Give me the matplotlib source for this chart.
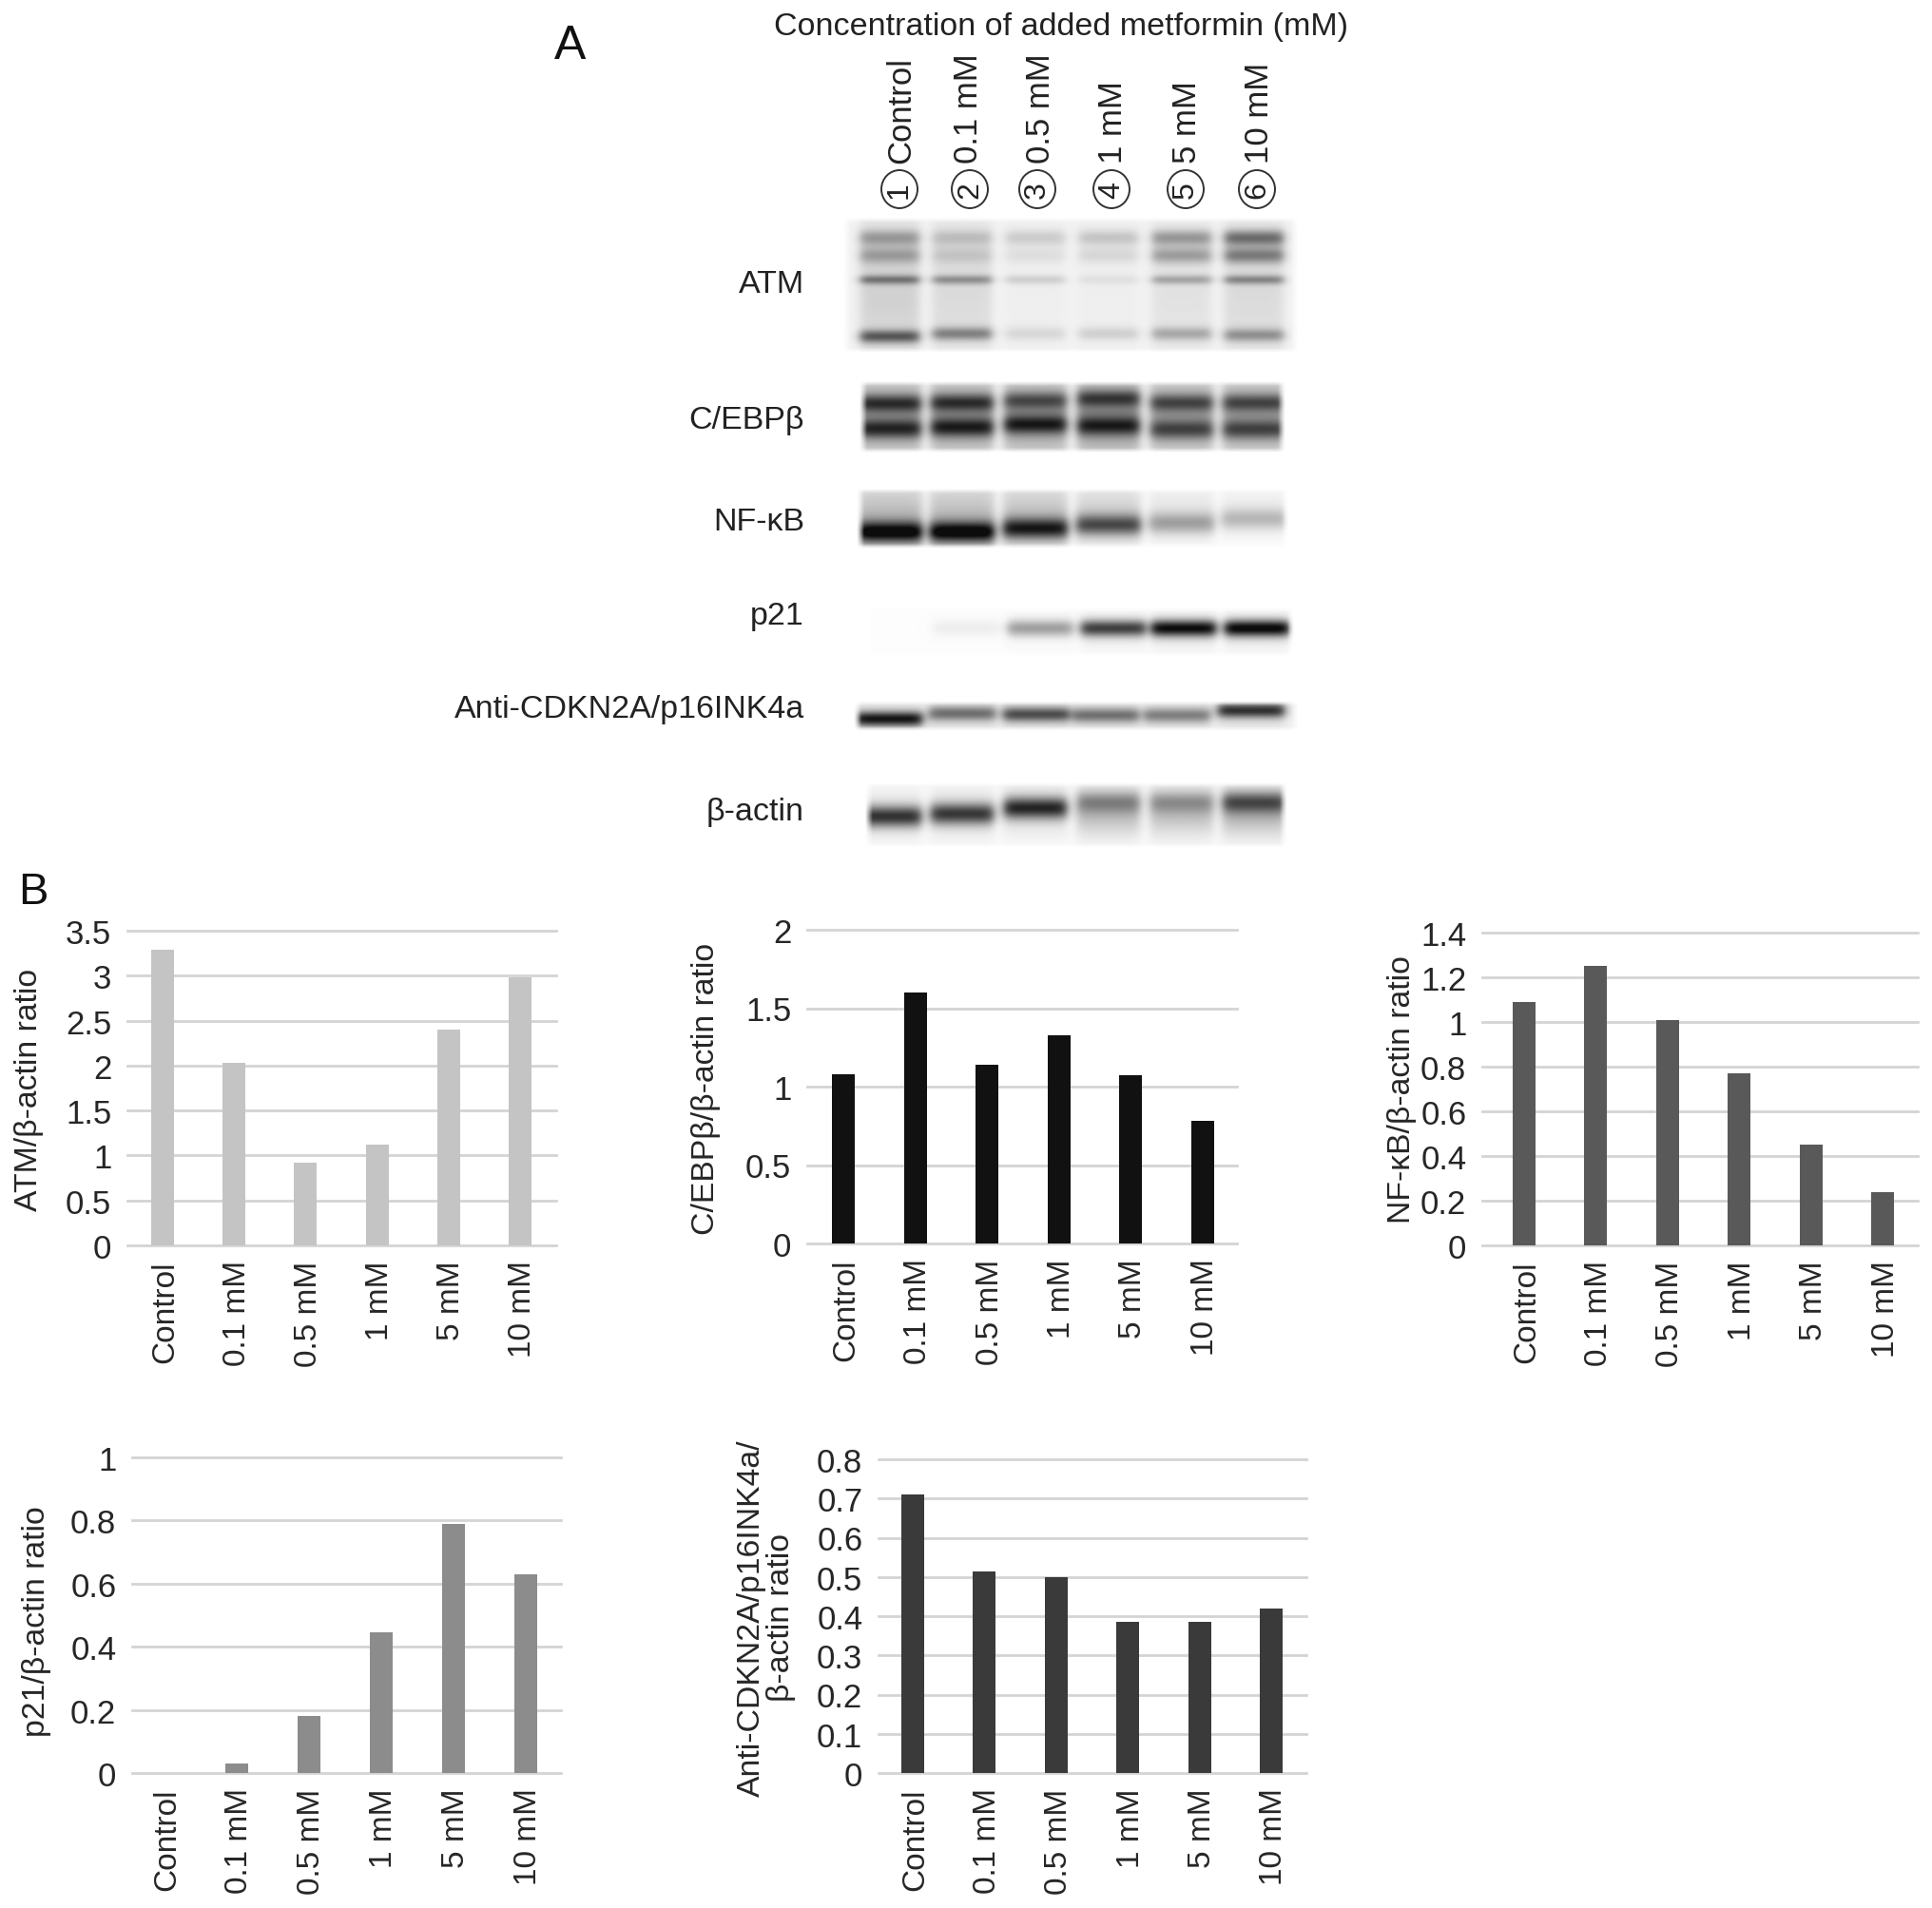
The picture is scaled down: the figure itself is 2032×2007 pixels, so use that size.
import numpy as np
import matplotlib
matplotlib.use("Agg")
import matplotlib.pyplot as plt
from matplotlib.patches import Ellipse
from matplotlib.transforms import ScaledTranslation

plt.rcParams['font.family'] = ['Liberation Sans', 'DejaVu Sans']

W, H = 2032, 2008
DOSES = ['Control', '0.1 mM', '0.5 mM', '1 mM', '5 mM', '10 mM']

# ---------- bar chart values ----------
atm_ratio = [3.29, 2.03, 0.92, 1.12, 2.40, 2.98]
cebp_ratio = [1.08, 1.60, 1.14, 1.33, 1.07, 0.78]
nfkb_ratio = [1.09, 1.25, 1.01, 0.77, 0.45, 0.24]
p21_ratio = [0.0, 0.03, 0.18, 0.445, 0.79, 0.63]
p16_ratio = [0.71, 0.515, 0.50, 0.385, 0.385, 0.42]

atm_ticks = ['0', '0.5', '1', '1.5', '2', '2.5', '3', '3.5']
cebp_ticks = ['0', '0.5', '1', '1.5', '2']
nfkb_ticks = ['0', '0.2', '0.4', '0.6', '0.8', '1', '1.2', '1.4']
p21_ticks = ['0', '0.2', '0.4', '0.6', '0.8', '1']
p16_ticks = ['0', '0.1', '0.2', '0.3', '0.4', '0.5', '0.6', '0.7', '0.8']

# ---------- band darkness per lane, read from the blots ----------
atm_top1 = [0.30, 0.17, 0.15, 0.18, 0.34, 0.50]
atm_top2 = [0.26, 0.12, 0.07, 0.10, 0.30, 0.42]
atm_mid = [0.40, 0.32, 0.13, 0.06, 0.26, 0.36]
atm_low = [0.55, 0.40, 0.10, 0.13, 0.26, 0.34]
atm_smear = [0.14, 0.10, 0.02, 0.02, 0.07, 0.10]
cebp_up = [0.50, 0.50, 0.40, 0.45, 0.42, 0.42]
cebp_dn = [0.52, 0.55, 0.55, 0.50, 0.42, 0.42]
cebp_smear = [0.40, 0.40, 0.40, 0.45, 0.38, 0.38]
nfkb_band = [0.72, 0.74, 0.62, 0.50, 0.26, 0.20]
nfkb_smear = [0.40, 0.38, 0.34, 0.25, 0.13, 0.09]
p21_band = [0.0, 0.06, 0.36, 0.72, 0.92, 0.95]
p21_smear = [0.0, 0.0, 0.02, 0.06, 0.08, 0.08]
p16_band = [0.85, 0.48, 0.62, 0.48, 0.42, 0.75]
p16_smear = [0.06, 0.06, 0.06, 0.05, 0.05, 0.05]
actin_band = [0.72, 0.68, 0.74, 0.30, 0.26, 0.50]
actin_smear = [0.10, 0.12, 0.14, 0.26, 0.24, 0.30]

fig = plt.figure(figsize=(W / 100, H / 100), dpi=100, facecolor='white')


def px_axes(l, r, t, b, **kw):
    return fig.add_axes([l / W, 1 - b / H, (r - l) / W, (b - t) / H], **kw)


def ftext(x, y, s, **kw):
    return fig.text(x / W, 1 - y / H, s, **kw)


LANES = [936, 1012, 1089, 1166, 1243, 1319]


def blot(l, r, t, b, bands, background=0.02, halfwidth=31, lanes=LANES):
    xx = np.arange(l, r) + 0.5
    yy = (np.arange(t, b) + 0.5 - t) / (b - t)
    dark = np.full((b - t, r - l), float(background))
    for band in bands:
        vals, pos, sig = band['v'], band['y'], band['s']
        up = band.get('smear_up', False)
        for i, c in enumerate(lanes):
            prof_x = 0.5 * (np.tanh((xx - c + halfwidth) / 6) - np.tanh((xx - c - halfwidth) / 6))
            p = pos[i] if np.ndim(pos) else pos
            if up == 'top':
                prof_y = np.where(yy < p, 0.35 + 0.65 * yy / max(p, .01), np.exp(-((yy - p) / sig) ** 2))
            else:
                prof_y = np.exp(-((yy - p) / sig) ** 2)
            dark += vals[i] * np.outer(prof_y, prof_x)
    edge_x = np.clip(np.minimum(xx - l, r - xx) / 8, 0, 1)
    edge_y = np.clip(np.minimum(np.arange(b - t) + .5, (b - t) - np.arange(b - t) - .5) / 5, 0, 1)
    dark = np.clip(dark, 0, 1) * np.outer(edge_y, edge_x)
    ax = px_axes(l, r, t, b)
    ax.imshow(1 - 0.95 * dark, cmap='gray', vmin=0, vmax=1, aspect='auto', interpolation='bilinear')
    ax.axis('off')


blot(887, 1366, 230, 372, [
    dict(v=atm_top1, y=0.15, s=0.06),
    dict(v=atm_top2, y=0.28, s=0.06),
    dict(v=atm_mid, y=0.46, s=0.035),
    dict(v=atm_low, y=[.88, .86, .86, .86, .86, .87], s=0.05),
    dict(v=atm_smear, y=0.55, s=0.55),
], background=0.05, halfwidth=31)

blot(904, 1352, 402, 477, [
    dict(v=cebp_up, y=[.31, .30, .27, .24, .30, .30], s=0.12),
    dict(v=cebp_dn, y=[.67, .65, .61, .63, .68, .68], s=0.13),
    dict(v=cebp_smear, y=0.5, s=0.55),
], background=0.03, halfwidth=33)

blot(901, 1356, 515, 578, [
    dict(v=nfkb_band, y=[.72, .72, .66, .60, .57, .50], s=0.17),
    dict(v=nfkb_smear, y=[.72, .72, .66, .60, .57, .50], s=0.30, smear_up='top'),
], background=0.01, halfwidth=34)

blot(912, 1362, 640, 692, [
    dict(v=p21_band, y=0.42, s=0.17),
    dict(v=p21_smear, y=0.5, s=0.40),
], background=0.012, halfwidth=34, lanes=[940, 1016, 1094, 1171, 1245, 1322])

blot(898, 1366, 738, 770, [
    dict(v=p16_band, y=[.60, .42, .45, .48, .48, .32], s=0.25),
    dict(v=p16_smear, y=0.55, s=0.6),
], background=0.06, halfwidth=35, lanes=[935, 1012, 1090, 1163, 1238, 1316])

blot(910, 1354, 824, 893, [
    dict(v=actin_band, y=[.52, .48, .39, .30, .30, .30], s=0.16),
    dict(v=actin_smear, y=[.50, .48, .42, .45, .45, .45], s=0.34),
], background=0.025, halfwidth=33)

# ---------- panel A text ----------
ftext(600, 49, 'A', fontsize=36, ha='center', va='center', color='#111111')
ftext(1116, 29, 'Concentration of added metformin (mM)', fontsize=24.5, ha='center', va='center', color='#222222')

overlay = px_axes(0, W, 0, H, facecolor='none')
overlay.set_xlim(0, W)
overlay.set_ylim(H, 0)
overlay.axis('off')
lane_label_x = [948, 1018, 1095, 1171, 1248, 1324]
circle_x = [946, 1020, 1091, 1169, 1247, 1322]
for i, (x, cx, s) in enumerate(zip(lane_label_x, circle_x, DOSES)):
    overlay.text(x, 172, s, rotation=90, fontsize=25, ha='center', va='bottom', color='#222222')
    overlay.add_patch(Ellipse((cx, 200), 38, 40, fill=False, ec='#333333', lw=1.4))
    overlay.text(cx, 200, str(i + 1), rotation=90, fontsize=23, ha='center', va='center', color='#222222')

row_labels = [('ATM', 300), ('C/EBPβ', 442), ('NF-κB', 550), ('p21', 649),
              ('Anti-CDKN2A/p16INK4a', 746), ('β-actin', 855)]
for s, y in row_labels:
    ftext(846, y, s, fontsize=24.5, ha='right', va='center', color='#222222')

ftext(35, 939, 'B', fontsize=34, ha='center', va='center', color='#111111')


# ---------- panel B charts ----------
def chart(vals, ticks, color, ylabel, l, r, t, b, first, step, yl_x, yl_y):
    ax = px_axes(l, r, t, b, facecolor='none')
    tick_vals = [float(v) for v in ticks]
    ax.set_ylim(0, tick_vals[-1])
    ax.set_xlim((l - first) / step, (r - first) / step)
    ax.set_yticks(tick_vals, ticks)
    ax.set_xticks(range(len(DOSES)), DOSES, rotation=90)
    ax.yaxis.grid(True, color='#d4d4d4', lw=2.0)
    for g in ax.get_ygridlines():
        g.set_clip_on(False)
    ax.set_axisbelow(True)
    ax.bar(range(len(vals)), vals, width=24 / step, color=color, zorder=3)
    for s in ax.spines.values():
        s.set_visible(False)
    ax.tick_params(axis='y', length=0, pad=12, labelsize=25, labelcolor='#262626')
    ax.tick_params(axis='x', length=0, pad=11, labelsize=24, labelcolor='#262626')
    shift = ScaledTranslation(3 / 100, 0, fig.dpi_scale_trans)
    for lab in ax.get_xticklabels():
        lab.set_transform(lab.get_transform() + shift)
    ftext(yl_x, yl_y, ylabel, fontsize=24.3, rotation=90, ha='center', va='center',
          color='#262626', linespacing=1.0, multialignment='center')


chart(atm_ratio, atm_ticks, '#c4c4c4', 'ATM/β-actin ratio', 134, 585, 980, 1311, 171, 75.2, 31, 1146)
chart(cebp_ratio, cebp_ticks, '#111111', 'C/EBPβ/β-actin ratio', 849, 1301, 979, 1309, 887, 75.5, 743, 1145)
chart(nfkb_ratio, nfkb_ticks, '#595959', 'NF-κB/β-actin ratio', 1559, 2017, 982, 1311, 1603, 75.4, 1475, 1146)
chart(p21_ratio, p21_ticks, '#8c8c8c', 'p21/β-actin ratio', 139, 590, 1534, 1866, 173, 76.0, 39, 1706)
chart(p16_ratio, p16_ticks, '#3a3a3a', 'Anti-CDKN2A/p16INK4a/\nβ-actin ratio', 924, 1374, 1536, 1866, 960, 75.4, 806, 1702)

fig.savefig('out.png', dpi=100, facecolor='white')
